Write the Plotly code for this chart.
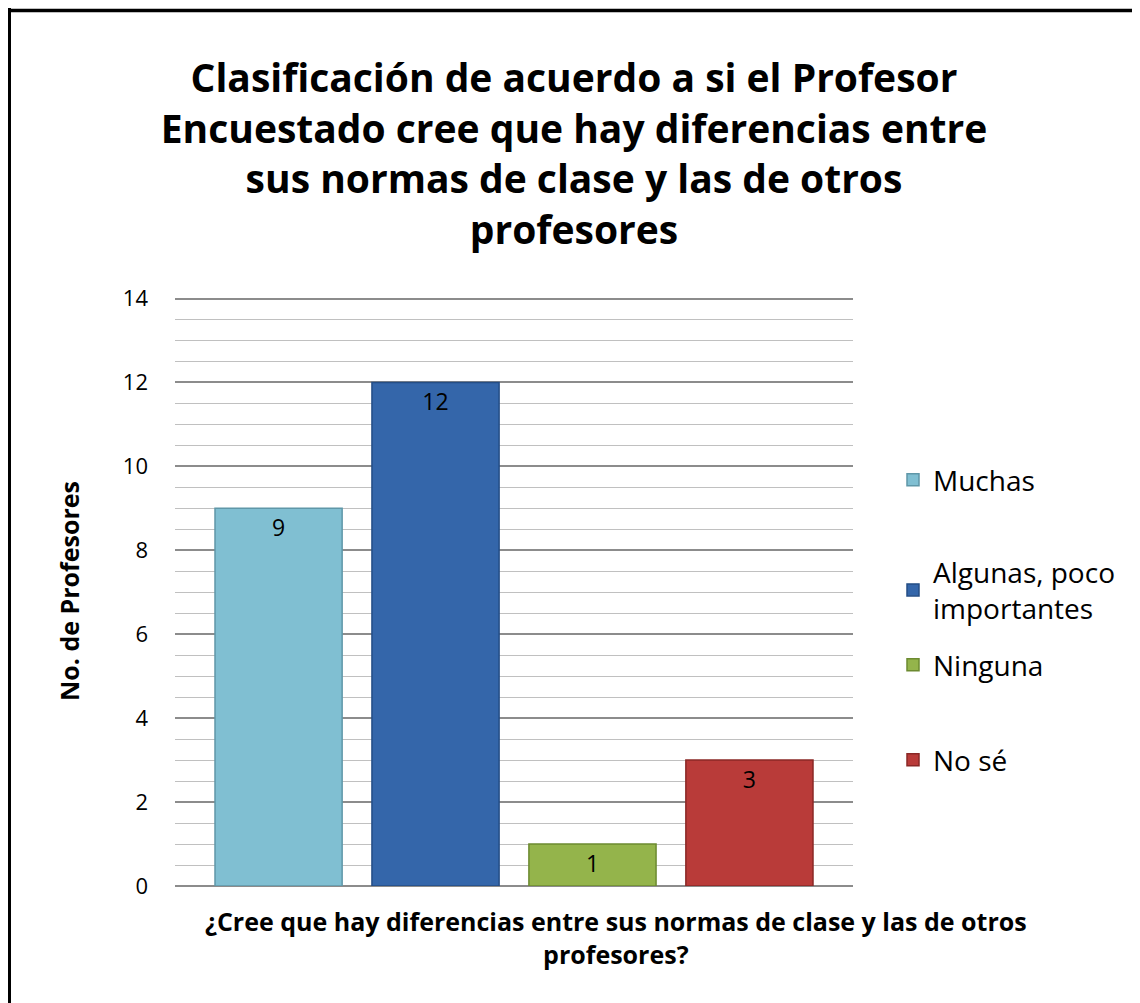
import plotly.graph_objects as go

# datos de la encuesta
respuestas = ["Muchas", "Algunas, poco<br>importantes", "Ninguna", "No sé"]
profesores = [9, 12, 1, 3]
colores = ["#80bfd2", "#3466aa", "#94b44b", "#b93b39"]
bordes = ["#5f97a8", "#244d85", "#6c8a30", "#8a2826"]
grupo = ["¿Cree que hay diferencias"]

titulo = ("Clasificación de acuerdo a si el Profesor<br>"
          "Encuestado cree que hay diferencias entre<br>"
          "sus normas de clase y las de otros<br>"
          "profesores")
titulo_x = "¿Cree que hay diferencias entre sus normas de clase y las de otros<br>profesores?"
titulo_y = "No. de Profesores"

fuente = "Open Sans"

fig = go.Figure()
leyendas = ["legend", "legend2", "legend3", "legend4"]
for i in range(len(respuestas)):
    fig.add_trace(go.Bar(
        x=grupo, y=[profesores[i]], name=respuestas[i],
        marker=dict(color=colores[i], line=dict(color=bordes[i], width=1.5)),
        text=[str(profesores[i])], textposition="inside", insidetextanchor="end",
        textangle=0, textfont=dict(size=23, color="black", family=fuente),
        legend=leyendas[i], showlegend=True,
    ))

# la pagina tiene 8px de margen en el body
W, H = 1132, 995
L, R, T, B = 167, 287, 288, 117
pw, ph = W - L - R, H - T - B


def px(x):
    return (x - L) / pw


def py(y):
    return (H - B - y) / ph


leg_y = [py(472), py(582), py(657), py(752)]
leg_cfg = {}
for i, nombre in enumerate(leyendas):
    leg_cfg[nombre] = dict(x=px(885), y=leg_y[i], xanchor="left", yanchor="middle",
                           font=dict(size=28, family=fuente, color="black"),
                           bgcolor="rgba(0,0,0,0)", itemwidth=30)

fig.update_layout(
    width=W, height=H,
    margin=dict(l=L, r=R, t=T, b=B),
    paper_bgcolor="white", plot_bgcolor="white",
    font=dict(family=fuente, color="black"),
    showlegend=True,
    title=dict(text="<b>" + titulo + "</b>", x=0.5, xref="container", xanchor="center",
               y=1 - 84 / H, yanchor="middle", yref="container",
               font=dict(size=39, family=fuente, color="black")),
    barmode="group", bargap=0.074, bargroupgap=0.19,
    **leg_cfg,
)

fig.update_xaxes(showticklabels=False, showgrid=False, showline=False)
fig.update_yaxes(range=[0, 14.06], dtick=2, tick0=0, showgrid=True, gridcolor="#8c8c8c", gridwidth=1.5,
                 zeroline=True, zerolinecolor="#8c8c8c", zerolinewidth=1.5,
                 minor=dict(dtick=0.5, showgrid=True, gridcolor="#c0c0c0", gridwidth=1.2),
                 ticks="", ticklabelstandoff=26, tickfont=dict(size=22, family=fuente, color="black"),
                 title=dict(text="<b>" + titulo_y + "</b>", font=dict(size=25, family=fuente, color="black"),
                            standoff=36))

# titulo del eje x, centrado en el area del grafico
fig.add_annotation(text="<b>" + titulo_x + "</b>", xref="paper", yref="paper",
                   x=px(608), y=py(929), xanchor="center", yanchor="middle", showarrow=False,
                   font=dict(size=25, family=fuente, color="black"))

# marco del gráfico
fig.add_shape(type="line", xref="paper", yref="paper", x0=px(0.5), x1=px(0.5),
              y0=py(H + 10), y1=py(0), line=dict(color="black", width=5))
fig.add_shape(type="line", xref="paper", yref="paper", x0=px(-2), x1=px(1131),
              y0=py(2.5), y1=py(2.5), line=dict(color="black", width=3.5))
fig.add_shape(type="line", xref="paper", yref="paper", x0=px(1131), x1=px(1131),
              y0=py(H + 10), y1=py(4), line=dict(color="#808080", width=1.5))

fig.write_html("out.html")
